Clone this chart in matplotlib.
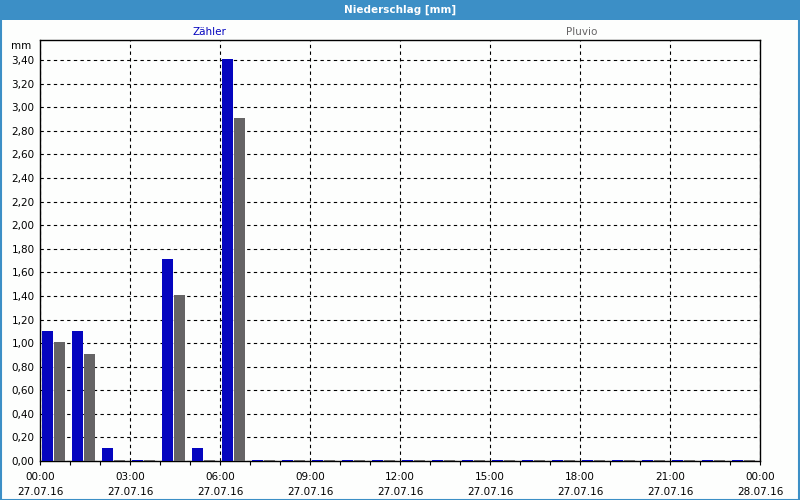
import matplotlib
matplotlib.use("Agg")
import matplotlib.pyplot as plt
from matplotlib.patches import Rectangle
import numpy as np

hours = list(range(24))
zaehler = [1.10, 1.10, 0.11, 0.01, 1.71, 0.11, 3.41] + [0.01] * 17
pluvio = [1.01, 0.91, 0.01, 0.01, 1.41, 0.01, 2.91] + [0.01] * 17
xtick_hours = [0, 3, 6, 9, 12, 15, 18, 21, 24]
xtick_labels = ["00:00\n27.07.16", "03:00\n27.07.16", "06:00\n27.07.16",
                "09:00\n27.07.16", "12:00\n27.07.16", "15:00\n27.07.16",
                "18:00\n27.07.16", "21:00\n27.07.16", "00:00\n28.07.16"]
yticks = [round(0.2 * i, 2) for i in range(18)]
ytick_labels = [f"{v:.2f}".replace(".", ",") for v in yticks]

plt.rcParams['font.family'] = ['DejaVu Sans']
FS = 7.5

fig = plt.figure(figsize=(8, 5), dpi=100, facecolor="#fdfefd")
W, H = 800, 500

# title bar
fig.patches.append(Rectangle((0, 1 - 20 / H), 1, 20 / H, transform=fig.transFigure,
                             facecolor="#3c8fc6", edgecolor="none", zorder=0))
fig.text(0.5, 1 - 10 / H, "Niederschlag [mm]", color="white", fontsize=FS,
         fontweight="bold", ha="center", va="center")
# outer border
fig.patches.append(Rectangle((0.5 / W, 0.5 / H), 1 - 1.5 / W, 1 - 1.5 / H,
                             transform=fig.transFigure, facecolor="none",
                             edgecolor="#3c8fc6", linewidth=1.5, zorder=5))

ax = fig.add_axes([40 / W, 39 / H, 720 / W, 421 / H])
ax.set_facecolor("#fdfefd")

h = np.array(hours, dtype=float)
ax.bar(h + 2 / 30, zaehler, width=11 / 30, align="edge", color="#0505bf", zorder=3)
ax.bar(h + 14 / 30, pluvio, width=11 / 30, align="edge", color="#656465", zorder=3)

ax.set_xlim(0, 24)
ax.set_ylim(0, 421 / 117.9)
ax.set_xticks(xtick_hours)
ax.set_xticklabels(xtick_labels, fontsize=FS, linespacing=1.6)
ax.set_xticks(hours, minor=True)
ax.set_yticks(yticks)
ax.set_yticklabels(ytick_labels, fontsize=FS)

ax.tick_params(axis="x", which="both", direction="out", length=3, width=0.8, pad=5)
ax.tick_params(axis="y", length=0, pad=4)
ax.grid(True, which="major", color="black", linestyle=(0, (3, 3)), linewidth=0.8, zorder=1)
ax.set_axisbelow(True)
for s in ax.spines.values():
    s.set_color("black")
    s.set_linewidth(1)

fig.text(31 / W, 1 - 46 / H, "mm", fontsize=FS, ha="right", va="center")
fig.text(209 / W, 1 - 32 / H, "Zähler", fontsize=FS, color="#0505bf", ha="center", va="center")
fig.text(582 / W, 1 - 32 / H, "Pluvio", fontsize=FS, color="#656465", ha="center", va="center")

fig.savefig("out.png", dpi=100, facecolor=fig.get_facecolor())
